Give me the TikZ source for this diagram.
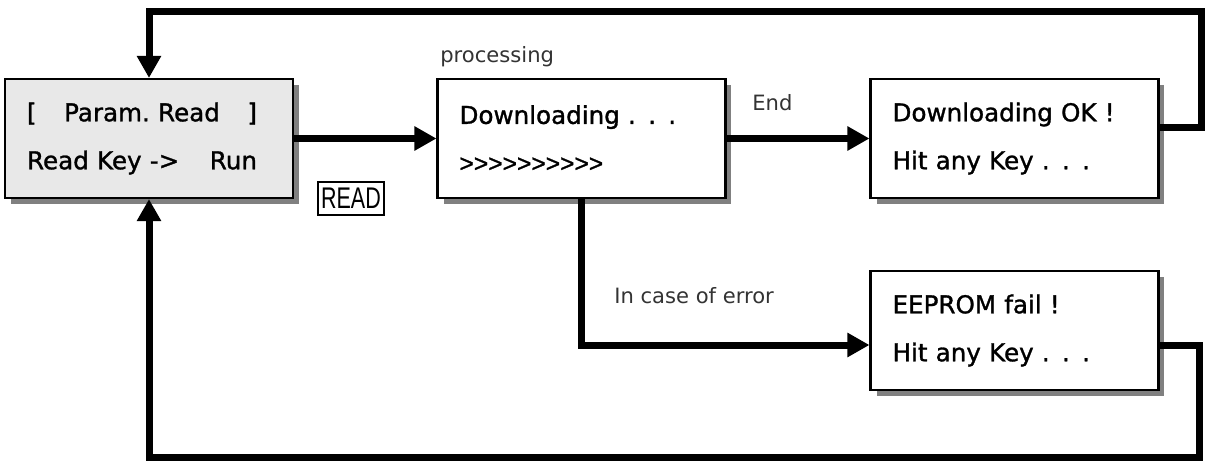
\documentclass[tikz,border=0pt]{standalone}
\usepackage{graphicx}
\usepackage{fontspec}
\setmainfont{DejaVu Sans}[Ligatures=TeXOff]
\newfontfamily\screenfont{DejaVu Sans}[Ligatures=TeXOff,FakeBold=1.2]
\newfontfamily\barfont{Liberation Sans}[Ligatures=TeXOff,FakeBold=1.2]
\newfontfamily\narrowfont{Liberation Sans}
\usetikzlibrary{arrows.meta,shadows}
\tikzset{
  panel/.style={draw,line width=1.2pt,fill=white,minimum width=5.76cm,
    minimum height=2.38cm,inner xsep=0.44cm,text width=4.88cm,align=left,
    font=\screenfont\fontsize{14}{27.3}\selectfont,
    drop shadow={shadow xshift=0.12cm,shadow yshift=-0.12cm,fill=black!50,opacity=1}},
  flow/.style={line width=0.14cm,-{Triangle[length=0.44cm,width=0.46cm]}},
  note/.style={anchor=west,inner sep=0pt,text=black!80,font=\fontsize{12}{14}\selectfont}
}
\begin{document}
\begin{tikzpicture}[x=0.02cm,y=-0.02cm]
\useasboundingbox (0,0) rectangle (1205,461);
% screens
\node[panel,fill=black!9] (read) at (149,138.5)
  {\makebox[4.6cm]{[\hfill Param.\ Read\hfill]}\\\makebox[4.6cm]{Read Key ->\hfill Run}};
\node[panel] (load) at (581.5,138.5) {Downloading . . .\\{\barfont >>>>>>>>>>}};
\node[panel] (okbox) at (1014.5,138.5) {Downloading OK !\\Hit any Key . . .};
\node[panel] (failbox) at (1014.5,330.5) {EEPROM fail !\\Hit any Key . . .};
% labels
\node[draw,line width=0.6pt,inner sep=0pt,minimum width=1.32cm,minimum height=0.66cm,
  font=\narrowfont\fontsize{17}{17}\selectfont] (readtag) at (351,198.5) {\scalebox{0.72}[1]{READ}};
\node[note] (proclabel) at (440,57) {processing};
\node[note] (endlabel) at (752,103) {End};
\node[note] (errlabel) at (614,296) {In case of error};
% connectors
\coordinate (topright) at (1201,11.5);
\coordinate (botright) at (1199,457.5);
\draw[flow] (read) -- (load);
\draw[flow] (load) -- (okbox);
\draw[flow] (load.south) |- ([yshift=-0.29cm]failbox.west);
\draw[flow] ([yshift=0.22cm]okbox.east) -| (topright) -| (read.north);
\draw[flow] ([yshift=-0.29cm]failbox.east) -| (botright) -| (read.south);
\end{tikzpicture}
\end{document}
